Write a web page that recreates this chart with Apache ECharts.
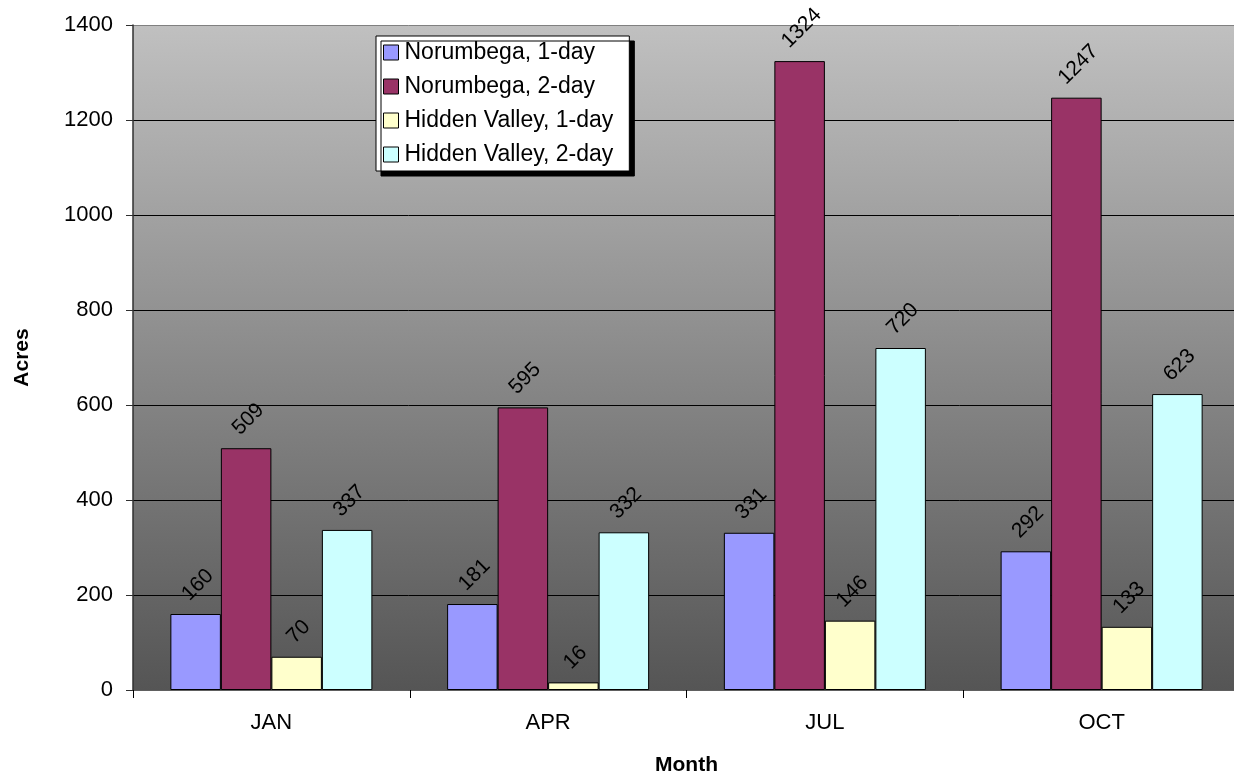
<!DOCTYPE html>
<html>
<head>
    <meta charset="utf-8">
    <title>Acres by Month</title>
    <script src="https://cdn.jsdelivr.net/npm/echarts@6/dist/echarts.min.js"></script>
    <style>
        html, body { margin: 0; padding: 0; background: #fff; overflow: hidden; }
        #chart1 { width: 1234px; height: 772px; }
    </style>
</head>
<body>
<div id="chart1"></div>
<script>
    // 数据
    var months = ['JAN', 'APR', 'JUL', 'OCT'];
    var seriesNames = ['Norumbega, 1-day', 'Norumbega, 2-day', 'Hidden Valley, 1-day', 'Hidden Valley, 2-day'];
    var norumbega1 = [160, 181, 331, 292];
    var norumbega2 = [509, 595, 1324, 1247];
    var hidden1 = [70, 16, 146, 133];
    var hidden2 = [337, 332, 720, 623];
    var barColors = ['#9999ff', '#993366', '#ffffcc', '#ccffff'];

    var font = 'Liberation Sans, Arial, sans-serif';
    var labelSize = 21;
    var allData = [norumbega1, norumbega2, hidden1, hidden2];

    // 旋转后的标签：让旋转后的包围盒底部距柱顶约7px
    function labelDistance(v) {
        var w = String(v).length * labelSize * 0.556;
        return 7 + (w + labelSize) * 0.707 / 2;
    }

    var series = allData.map(function (d, i) {
        return {
            name: seriesNames[i],
            type: 'bar',
            data: d.map(function (v) {
                return { value: v, label: { distance: labelDistance(v) } };
            }),
            barGap: '0%',
            barCategoryGap: '27%',
            itemStyle: { color: barColors[i], borderColor: '#000', borderWidth: 1 },
            label: {
                show: true,
                position: 'top',
                rotate: 45,
                align: 'center',
                verticalAlign: 'middle',
                offset: [3, 0],
                color: '#000',
                fontFamily: font,
                fontSize: labelSize
            }
        };
    });

    var myChart1 = echarts.init(document.getElementById('chart1'));
    myChart1.setOption({
        animation: false,
        textStyle: { fontFamily: font },
        grid: {
            left: 133, right: -6, top: 25, bottom: 82,
            outerBoundsMode: 'none',
            containLabel: false,
            show: true,
            borderWidth: 0,
            backgroundColor: new echarts.graphic.LinearGradient(0, 0, 0, 1, [
                { offset: 0, color: '#c0c0c0' },
                { offset: 1, color: '#555555' }
            ])
        },
        legend: {
            orient: 'vertical',
            left: 376,
            top: 36,
            data: seriesNames,
            icon: 'rect',
            itemWidth: 15,
            itemHeight: 15,
            itemGap: 11,
            padding: [5, 16, 5, 7],
            backgroundColor: '#fff',
            borderColor: '#000',
            borderWidth: 1,
            borderRadius: 0,
            shadowColor: '#000',
            shadowBlur: 0,
            shadowOffsetX: 5,
            shadowOffsetY: 5,
            textStyle: { color: '#000', fontSize: 23, fontFamily: font, padding: [0, 0, 0, 1] },
            itemStyle: { borderColor: '#000', borderWidth: 1 }
        },
        xAxis: {
            type: 'category',
            data: months,
            name: 'Month',
            nameLocation: 'middle',
            nameGap: 65,
            nameTextStyle: { fontWeight: 'bold', fontSize: 21, color: '#000' },
            axisLine: { lineStyle: { color: '#606060', width: 1 } },
            axisTick: { show: true, length: 8, alignWithLabel: false, lineStyle: { color: '#000' } },
            axisLabel: { color: '#000', fontSize: 22, margin: 22 }
        },
        yAxis: {
            type: 'value',
            min: 0,
            max: 1400,
            interval: 200,
            name: 'Acres',
            nameLocation: 'middle',
            nameGap: 100,
            nameTextStyle: { fontWeight: 'bold', fontSize: 21, color: '#000' },
            axisLine: { show: true, lineStyle: { color: '#303030', width: 1.5 } },
            axisTick: { show: true, length: 7, lineStyle: { color: '#303030' } },
            axisLabel: {
                color: '#000', fontSize: 22, margin: 20,
                formatter: function (v) { return String(v); }
            },
            splitLine: {
                lineStyle: {
                    color: ['#000', '#000', '#000', '#000', '#000', '#000', '#000', '#808080'],
                    width: 1
                }
            }
        },
        series: series
    });
</script>
</body>
</html>
